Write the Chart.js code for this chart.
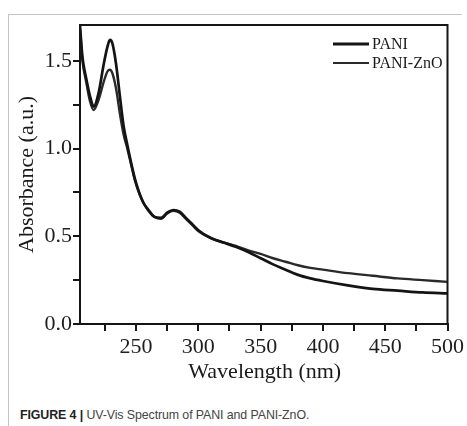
<!DOCTYPE html>
<html>
<head>
<meta charset="utf-8">
<script src="https://cdn.jsdelivr.net/npm/chart.js@4/dist/chart.umd.min.js"></script>
<style>
  html, body { margin: 0; padding: 0; background: #fff; }
  #wrap { position: relative; width: 467px; height: 426px; overflow: hidden; }
  #frame { position: absolute; left: 8px; top: 14px; width: 453px; height: 420px;
           border-left: 1px solid #c4c4c4; border-top: 1px solid #c4c4c4; }
  #chart { position: absolute; left: 0; top: 0; }
  #caption { position: absolute; left: 20px; top: 408px; font: 12.4px "Liberation Sans", Arial, sans-serif;
             color: #444; white-space: nowrap; letter-spacing: -0.1px; }
  #caption b { color: #222; }
</style>
</head>
<body>
<div id="wrap">
  <div id="frame"></div>
  <canvas id="chart" width="467" height="400"></canvas>
  <div id="caption"><b>FIGURE 4 |</b> UV-Vis Spectrum of PANI and PANI-ZnO.</div>
</div>
<script>
// Wavelengths (nm) and absorbance
const wavelengths = [205, 207, 210, 213, 216, 220, 224, 227, 229, 231, 234, 237, 240, 243, 246, 249,
  252, 256, 260, 265, 270, 275, 280, 285, 290, 295, 300, 310, 320, 330, 340, 350, 360, 370, 380,
  390, 400, 420, 440, 460, 480, 500];
const pani = [1.70, 1.52, 1.40, 1.30, 1.24, 1.32, 1.48, 1.58, 1.62, 1.60, 1.48, 1.30, 1.13, 1.02,
  0.92, 0.83, 0.76, 0.69, 0.65, 0.61, 0.605, 0.635, 0.65, 0.64, 0.605, 0.57, 0.535, 0.49, 0.465,
  0.44, 0.41, 0.375, 0.34, 0.31, 0.28, 0.26, 0.245, 0.22, 0.20, 0.19, 0.18, 0.175];
const paniZnO = [1.68, 1.50, 1.38, 1.27, 1.22, 1.28, 1.38, 1.44, 1.45, 1.43, 1.34, 1.20, 1.08, 1.00,
  0.91, 0.82, 0.755, 0.69, 0.645, 0.61, 0.60, 0.63, 0.645, 0.635, 0.60, 0.565, 0.53, 0.49, 0.465,
  0.445, 0.42, 0.40, 0.375, 0.355, 0.335, 0.32, 0.31, 0.29, 0.275, 0.26, 0.25, 0.24];
const seriesNames = ['PANI', 'PANI-ZnO'];
const xTicks = [225, 250, 275, 300, 325, 350, 375, 400, 425, 450, 475, 500];
const yTicks = [0, 0.25, 0.5, 0.75, 1.0, 1.25, 1.5];

const serif = '"Liberation Serif", "Times New Roman", "DejaVu Serif", serif';

const toPoints = vals => vals.map((v, i) => ({ x: wavelengths[i], y: v }));

// frame, legend and axis titles
const decor = {
  id: 'decor',
  afterDraw(chart) {
    const ctx = chart.ctx;
    const a = chart.chartArea;
    ctx.save();
    ctx.strokeStyle = '#151515';
    ctx.lineWidth = 2;
    ctx.beginPath();
    ctx.moveTo(a.left, a.top);
    ctx.lineTo(a.right, a.top);
    ctx.lineTo(a.right, a.bottom);
    ctx.stroke();

    // legend
    ctx.font = '16px ' + serif;
    ctx.textBaseline = 'middle';
    ctx.fillStyle = '#1a1a1a';
    chart.data.datasets.forEach((ds, i) => {
      const y = 44 + i * 19;
      ctx.strokeStyle = ds.borderColor;
      ctx.lineWidth = i === 0 ? 3 : 2;
      ctx.beginPath();
      ctx.moveTo(333, y);
      ctx.lineTo(369, y);
      ctx.stroke();
      ctx.fillText(ds.label, 372, y + 1);
    });

    // axis titles
    ctx.font = '22px ' + serif;
    ctx.textAlign = 'center';
    ctx.fillStyle = '#1a1a1a';
    ctx.fillText('Wavelength (nm)', (a.left + a.right) / 2 + 1, 372);
    ctx.translate(27, (a.top + a.bottom) / 2);
    ctx.rotate(-Math.PI / 2);
    ctx.fillText('Absorbance (a.u.)', 0, 0);
    ctx.restore();
  }
};

new Chart(document.getElementById('chart'), {
  type: 'line',
  data: {
    datasets: [{
      label: seriesNames[0],
      data: toPoints(pani),
      borderColor: '#141414',
      borderWidth: 2.7,
      pointRadius: 0,
      cubicInterpolationMode: 'monotone'
    }, {
      label: seriesNames[1],
      data: toPoints(paniZnO),
      borderColor: '#2a2a2a',
      borderWidth: 2.4,
      pointRadius: 0,
      cubicInterpolationMode: 'monotone'
    }]
  },
  options: {
    responsive: false,
    animation: false,
    events: [],
    layout: { padding: { top: 25, right: 18, left: 0, bottom: 0 } },
    plugins: { legend: { display: false }, tooltip: { enabled: false } },
    scales: {
      x: {
        type: 'linear',
        min: 205,
        max: 500,
        afterFit: s => { s.height = 76; },
        afterBuildTicks: s => { s.ticks = xTicks.map(v => ({ value: v })); },
        border: { display: true, color: '#151515', width: 2 },
        grid: { drawOnChartArea: false, drawTicks: true, tickLength: 7, color: '#151515', lineWidth: 2 },
        ticks: {
          padding: 3,
          color: '#1e1e1e',
          font: { family: serif, size: 22 },
          maxRotation: 0,
          autoSkip: false,
          callback: v => (v % 50 === 0 ? String(v) : '')
        }
      },
      y: {
        min: 0,
        max: 1.705,
        afterFit: s => { s.width = 80; },
        afterBuildTicks: s => { s.ticks = yTicks.map(v => ({ value: v })); },
        border: { display: true, color: '#151515', width: 2 },
        grid: { drawOnChartArea: false, drawTicks: true, tickLength: 7, color: '#151515', lineWidth: 2 },
        ticks: {
          padding: 1,
          color: '#1e1e1e',
          font: { family: serif, size: 22 },
          autoSkip: false,
          callback: v => (Math.abs(v * 2 - Math.round(v * 2)) < 1e-6 ? v.toFixed(1) : '')
        }
      }
    }
  },
  plugins: [decor]
});
</script>
</body>
</html>
